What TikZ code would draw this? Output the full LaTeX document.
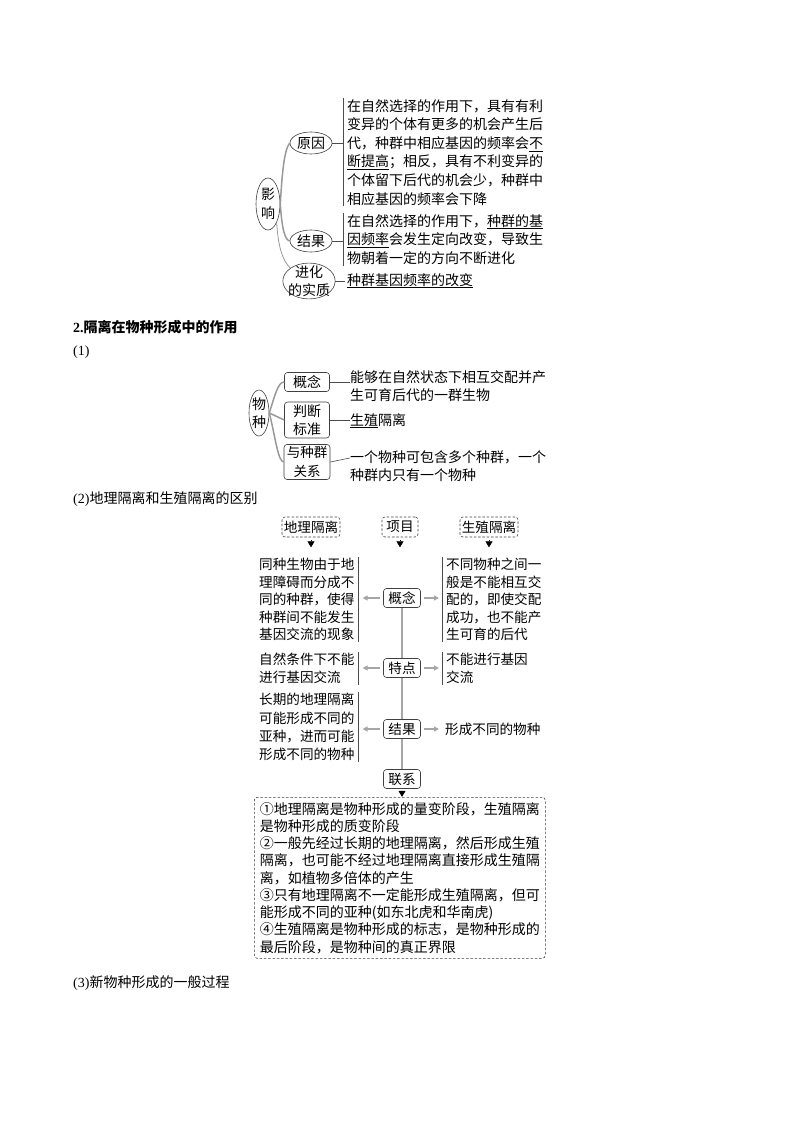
\documentclass[tikz,border=0pt]{standalone}
\usepackage{fontspec}
\setmainfont{Liberation Serif}
\newfontfamily\cjk{Noto Sans CJK SC}
\usetikzlibrary{arrows.meta,shapes.geometric}
\tikzset{
  cj/.style={font=\cjk\fontsize{14}{18.6}\selectfont},
  cjtwo/.style={font=\cjk\fontsize{13.6}{17.5}\selectfont},
  txt/.style={inner sep=0pt, align=left, anchor=north west},
  ell/.style={ellipse, draw=black!75, line width=0.6pt, inner sep=0pt, align=center},
  rbox/.style={rounded corners=3pt, draw=black!75, line width=0.6pt, align=center, inner sep=1.5pt},
  dbox/.style={rbox, dash pattern=on 2.5pt off 1.8pt},
  branch/.style={draw=black!40, line width=1.5pt},
  link/.style={draw=black!70, line width=0.6pt},
  bar/.style={draw=black!70, line width=0.7pt},
  gline/.style={draw=black!35, line width=1.2pt},
  garrow/.style={draw=black!35, line width=1.2pt, -{Triangle[length=5pt,width=5pt]}},
  barrow/.style={draw=black, line width=0.5pt, -{Triangle[length=6pt,width=7pt]}},
}
\begin{document}
\begin{tikzpicture}[x=1pt,y=-1pt]
\fill[white] (0,0) rectangle (800,1132);
\useasboundingbox (0,0) rectangle (800,1132);

% ---------- top mind map ----------
\node[ell, cj, minimum width=24, minimum height=52] (yx) at (268,204) {影\\响};
\node[ell, cj, minimum width=42, minimum height=22] (yy) at (311,143) {原因};
\node[ell, cj, minimum width=42, minimum height=22] (jg) at (311,241) {结果};
\node[ell, inner sep=-2.5pt, font=\cjk\fontsize{14}{17.5}\selectfont] (sz) at (309,281) {进化\\的实质};

\draw[branch] (yx.east) .. controls (282,175) and (284,150) .. (yy.west);
\draw[branch] (yx.east) .. controls (282,230) and (285,240) .. (jg.west);
\draw[branch, line width=0.8pt] (yx.south east) .. controls (278,245) and (282,260) .. (sz.north west);

\node[txt, cj] (t1) at (347,99) {在自然选择的作用下，具有有利\\变异的个体有更多的机会产生后\\代，种群中相应基因的频率会\underline{不}\\\underline{断提高}；相反，具有不利变异的\\个体留下后代的机会少，种群中\\相应基因的频率会下降};
\draw[bar] ([xshift=-4pt,yshift=1pt]t1.north west) -- ([xshift=-4pt,yshift=-1pt]t1.south west);
\draw[link] (yy.east) -- ([xshift=-4pt]yy.east -| t1.west);

\node[txt, cj] (t2) at (347,214) {在自然选择的作用下，\underline{种群的基}\\\underline{因频率}会发生定向改变，导致生\\物朝着一定的方向不断进化};
\draw[bar] ([xshift=-4pt,yshift=1pt]t2.north west) -- ([xshift=-4pt,yshift=-1pt]t2.south west);
\draw[link] (jg.east) -- ([xshift=-4pt]jg.east -| t2.west);

\node[txt, cj] (t3) at (347,273) {\underline{种群基因频率的改变}};
\draw[link] (sz.east) -- ([xshift=-2pt]sz.east -| t3.west);

% ---------- headings ----------
\node[anchor=west, inner sep=0pt, font=\fontsize{14}{16}\selectfont\bfseries] (h2) at (73,327) {2.{\cjk 隔离在物种形成中的作用}};
\node[anchor=west, inner sep=0pt, font=\fontsize{14}{16}\selectfont] (h21) at (73,352) {(1)};
\node[anchor=west, inner sep=0pt, font=\fontsize{14}{16}\selectfont] (h22) at (73,499) {(2){\cjk 地理隔离和生殖隔离的区别}};
\node[anchor=west, inner sep=0pt, font=\fontsize{14}{16}\selectfont] (h23) at (73,983) {(3){\cjk 新物种形成的一般过程}};

% ---------- section (1) ----------
\node[ell, cj, minimum width=20, minimum height=46] (wz) at (259,413) {物\\种};
\node[rbox, cj, minimum width=45, minimum height=19] (gn1) at (307,382) {概念};
\node[rbox, font=\cjk\fontsize{14}{18}\selectfont, minimum width=45, minimum height=36] (pd) at (307,420) {判断\\标准};
\node[rbox, font=\cjk\fontsize{13.5}{18.5}\selectfont, minimum width=46, minimum height=35, inner xsep=1.5pt] (yz) at (307,462) {与种群\\关系};

\draw[branch] (wz.east) .. controls (275,395) and (278,382) .. (gn1.west);
\draw[branch] (wz.east) -- (pd.west);
\draw[branch] (wz.east) .. controls (275,435) and (278,462) .. (yz.west);

\node[txt, cj] (c1) at (350,370) {能够在自然状态下相互交配并产\\生可育后代的一群生物};
\node[txt, cj] (c2) at (350,413) {\underline{生殖}隔离};
\node[txt, cj] (c3) at (350,450) {一个物种可包含多个种群，一个\\种群内只有一个物种};
\draw[link] (gn1.east) -- (gn1.east -| c1.west);
\draw[link] (pd.east) -- (pd.east -| c2.west);
\draw[link] (yz.east) -- ([yshift=4pt]yz.east -| c3.west);

% ---------- section (2) ----------
\node[dbox, cjtwo, minimum width=58, minimum height=20] (dl) at (311,527) {地理隔离};
\node[dbox, cjtwo, minimum width=36, minimum height=20] (xm) at (400,527) {项目};
\node[dbox, cjtwo, minimum width=58, minimum height=20] (sl) at (489,527) {生殖隔离};
\draw[barrow] ([yshift=-3pt]dl.south) -- ([yshift=-10pt]dl.south);
\draw[barrow] ([yshift=-3pt]xm.south) -- ([yshift=-10pt]xm.south);
\draw[barrow] ([yshift=-3pt]sl.south) -- ([yshift=-10pt]sl.south);

\node[rbox, cjtwo, minimum width=37, minimum height=19] (g2) at (402,598) {概念};
\node[rbox, cjtwo, minimum width=37, minimum height=19] (td) at (402,668) {特点};
\node[rbox, cjtwo, minimum width=37, minimum height=19] (jg2) at (402,729) {结果};
\node[rbox, cjtwo, minimum width=37, minimum height=19] (lx) at (402,779) {联系};
\draw[gline] (g2.south) -- (td.north);
\draw[gline] (td.south) -- (jg2.north);
\draw[gline] (jg2.south) -- (lx.north);

\node[txt, cjtwo] (L1) at (259,558) {同种生物由于地\\理障碍而分成不\\同的种群，使得\\种群间不能发生\\基因交流的现象};
\draw[bar] ([xshift=4pt,yshift=1pt]L1.north east) -- ([xshift=4pt,yshift=-1pt]L1.south east);
\node[txt, cjtwo] (R1) at (446,558) {不同物种之间一\\般是不能相互交\\配的，即使交配\\成功，也不能产\\生可育的后代};
\draw[bar] ([xshift=-4pt,yshift=1pt]R1.north west) -- ([xshift=-4pt,yshift=-1pt]R1.south west);
\draw[garrow] ([xshift=-3pt]g2.west) -- ([xshift=8pt]g2.west -| L1.east);
\draw[garrow] ([xshift=3pt]g2.east) -- ([xshift=-7pt]g2.east -| R1.west);

\node[txt, font=\cjk\fontsize{13.6}{18}\selectfont] (L2) at (259,653) {自然条件下不能\\进行基因交流};
\draw[bar] ([xshift=4pt,yshift=1pt]L2.north east) -- ([xshift=4pt,yshift=-1pt]L2.south east);
\node[txt, font=\cjk\fontsize{13.6}{18}\selectfont] (R2) at (446,653) {不能进行基因\\交流};
\draw[bar] ([xshift=-4pt,yshift=1pt]R2.north west) -- ([xshift=-4pt,yshift=-1pt]R2.south west);
\draw[garrow] ([xshift=-3pt]td.west) -- ([xshift=8pt]td.west -| L2.east);
\draw[garrow] ([xshift=3pt]td.east) -- ([xshift=-7pt]td.east -| R2.west);

\node[txt, font=\cjk\fontsize{13.6}{18.3}\selectfont] (L3) at (259,693) {长期的地理隔离\\可能形成不同的\\亚种，进而可能\\形成不同的物种};
\draw[bar] ([xshift=4pt,yshift=1pt]L3.north east) -- ([xshift=4pt,yshift=-1pt]L3.south east);
\node[anchor=west, inner sep=0pt, cjtwo] (R3) at (445,729) {形成不同的物种};
\draw[garrow] ([xshift=-3pt]jg2.west) -- ([xshift=8pt]jg2.west -| L3.east);
\draw[garrow] ([xshift=3pt]jg2.east) -- ([xshift=-6pt]R3.west);

\draw[barrow] ([yshift=-2pt]lx.south) -- ([yshift=-8pt]lx.south);

\node[dbox, font=\cjk\fontsize{14}{17.25}\selectfont, align=left, anchor=north west, minimum width=291, minimum height=161, inner sep=0pt] (big) at (254,797) {①地理隔离是物种形成的量变阶段，生殖隔离\\是物种形成的质变阶段\\②一般先经过长期的地理隔离，然后形成生殖\\隔离，也可能不经过地理隔离直接形成生殖隔\\离，如植物多倍体的产生\\③只有地理隔离不一定能形成生殖隔离，但可\\能形成不同的亚种(如东北虎和华南虎)\\④生殖隔离是物种形成的标志，是物种形成的\\最后阶段，是物种间的真正界限};
\end{tikzpicture}
\end{document}
